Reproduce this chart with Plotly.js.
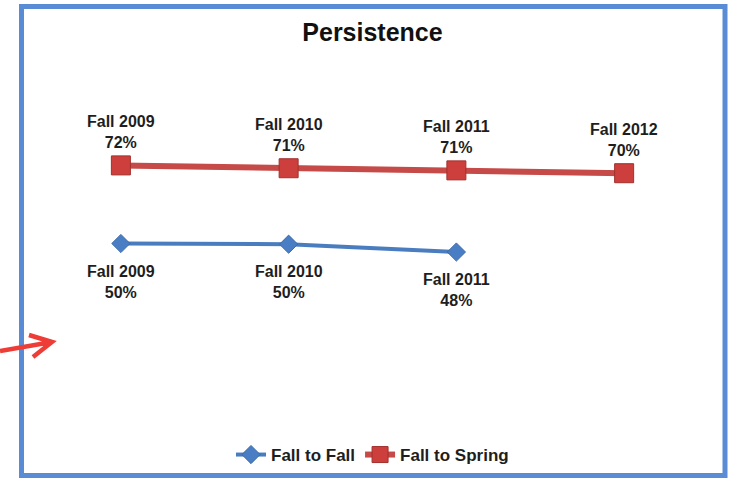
<!DOCTYPE html>
<html>
<head>
<meta charset="utf-8">
<script src="https://cdn.plot.ly/plotly-3.0.1.min.js"></script>
<style>
  html, body { margin: 0; padding: 0; background: #ffffff; }
  #chart { width: 732px; height: 478px; }
</style>
</head>
<body>
<div id="chart"></div>
<script>
// ---- Data ----
const categories = ['Fall 2009', 'Fall 2010', 'Fall 2011', 'Fall 2012'];
const fallToFallCats = ['Fall 2009', 'Fall 2010', 'Fall 2011'];
const fallToFall = [50.0, 49.8, 47.6];          // percent
const fallToSpring = [72.0, 71.2, 70.6, 69.8];  // percent
const seriesNames = ['Fall to Fall', 'Fall to Spring'];
const chartTitle = 'Persistence';

// ---- Layout geometry ----
const W = 732, H = 478;
const M = { l: 37, r: 24, t: 66, b: 57, autoexpand: false };
const plotW = W - M.l - M.r, plotH = H - M.t - M.b;
const px = x => (x - M.l) / plotW;
const py = y => (H - M.b - y) / plotH;

const FONT = 'Arial, "Liberation Sans", Helvetica, sans-serif';
const labelFont = { family: FONT, size: 16, color: '#1e1e1e', weight: 'bold' };
const labelText = (c, v) => c + '<br>' + Math.round(v) + '%';

const traces = [
  {
    x: fallToFallCats, y: fallToFall, name: seriesNames[0],
    type: 'scatter', mode: 'lines+markers',
    line: { color: '#4a7dc0', width: 4 },
    marker: { symbol: 'diamond', size: 14, color: '#4a7ec4', line: { color: '#3b6aa8', width: 1 } },
    cliponaxis: false
  },
  {
    x: categories, y: fallToSpring, name: seriesNames[1],
    type: 'scatter', mode: 'lines+markers',
    line: { color: '#c64a47', width: 6 },
    marker: { symbol: 'square', size: 19, color: '#cc3f3c', line: { color: '#a2302d', width: 1 } },
    cliponaxis: false
  }
];

const annotations = [];
fallToFallCats.forEach((c, i) => annotations.push({
  x: c, y: fallToFall[i], xref: 'x', yref: 'y', text: labelText(c, fallToFall[i]),
  showarrow: false, xanchor: 'center', yanchor: 'top', yshift: -17, font: labelFont
}));
categories.forEach((c, i) => annotations.push({
  x: c, y: fallToSpring[i], xref: 'x', yref: 'y', text: labelText(c, fallToSpring[i]),
  showarrow: false, xanchor: 'center', yanchor: 'bottom', yshift: 12, font: labelFont
}));

const layout = {
  width: W, height: H,
  margin: M,
  paper_bgcolor: '#ffffff', plot_bgcolor: '#ffffff',
  font: { family: FONT, color: '#1e1e1e' },
  title: {
    text: chartTitle,
    font: { family: FONT, size: 25, color: '#111111', weight: 'bold' },
    x: 0.5, xref: 'paper', xanchor: 'center',
    y: 1 - 32 / H, yref: 'container', yanchor: 'middle'
  },
  xaxis: { type: 'category', categoryarray: categories, range: [-0.5, 3.5], visible: false, fixedrange: true },
  yaxis: { range: [0, 100], visible: false, fixedrange: true },
  showlegend: true,
  legend: {
    orientation: 'h', x: 0.5, xanchor: 'center', y: py(455), yanchor: 'middle',
    font: { family: FONT, size: 17, color: '#1e1e1e', weight: 'bold' },
    bgcolor: 'rgba(0,0,0,0)', itemwidth: 30, tracegroupgap: 0
  },
  annotations: annotations,
  shapes: [
    { type: 'rect', xref: 'paper', yref: 'paper',
      x0: px(21.5), x1: px(725), y0: py(475.5), y1: py(6.5),
      line: { color: '#5a8cd6', width: 5 }, fillcolor: 'rgba(0,0,0,0)', layer: 'above' },
    { type: 'path', xref: 'paper', yref: 'paper',
      path: 'M ' + px(0) + ',' + py(351) + ' L ' + px(52) + ',' + py(342) +
            ' M ' + px(29) + ',' + py(335) + ' L ' + px(52) + ',' + py(342) +
            ' L ' + px(33) + ',' + py(357),
      line: { color: '#ee3d36', width: 4.5 }, layer: 'above' }
  ]
};

Plotly.newPlot('chart', traces, layout, { displayModeBar: false, staticPlot: true });
</script>
</body>
</html>
